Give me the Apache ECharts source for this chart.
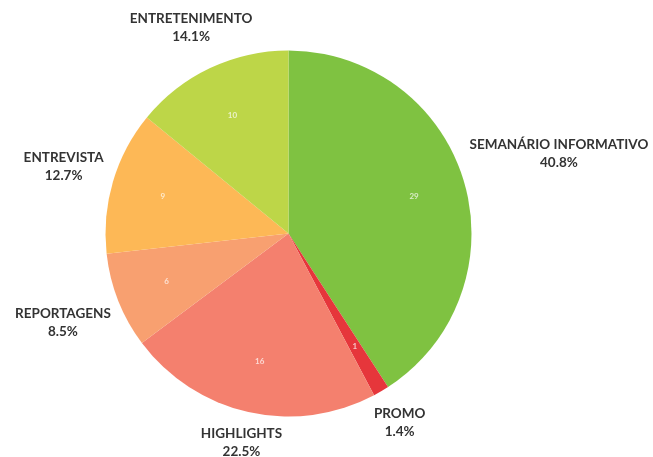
<!DOCTYPE html>
<html>
<head>
<meta charset="utf-8">
<script src="https://cdn.jsdelivr.net/npm/echarts@6/dist/echarts.min.js"></script>
<style>
html,body{margin:0;padding:0;background:#fff;}
#chart{width:653px;height:457px;}
</style>
</head>
<body>
<div id="chart"></div>
<script>
const categories = ['SEMANÁRIO INFORMATIVO', 'PROMO', 'HIGHLIGHTS', 'REPORTAGENS', 'ENTREVISTA', 'ENTRETENIMENTO'];
const counts = [29, 1, 16, 6, 9, 10];
const sliceColors = ['#7fc241', '#e6363b', '#f4806e', '#f8a070', '#fdb856', '#bdd648'];

const CX = 288.5, CY = 233.5, R = 183, GAP = 8;
const total = counts.reduce((a, b) => a + b, 0);
function midAngle(i) {
  let before = 0;
  for (let k = 0; k < i; k++) before += counts[k];
  return (before + counts[i] / 2) / total * Math.PI * 2;
}
function clamp(v, lo, hi) { return Math.max(lo, Math.min(hi, v)); }

const data = categories.map((name, i) => ({ name: name, value: counts[i], itemStyle: { color: sliceColors[i] } }));

const chart = echarts.init(document.getElementById('chart'), null, { renderer: 'canvas' });
chart.setOption({
  animation: false,
  backgroundColor: '#ffffff',
  series: [
    {
      type: 'pie',
      center: [CX, CY],
      radius: [0, R],
      startAngle: 90,
      clockwise: true,
      percentPrecision: 1,
      avoidLabelOverlap: false,
      silent: true,
      data: data,
      label: {
        show: true,
        position: 'outside',
        formatter: '{b}\n{d}%',
        color: '#333333',
        fontFamily: 'Lato',
        fontWeight: 'bold',
        fontSize: 13.5,
        lineHeight: 18,
        align: 'center'
      },
      labelLine: { show: false },
      labelLayout: function (p) {
        const a = midAngle(p.dataIndex);
        const ux = Math.sin(a), uy = -Math.cos(a);
        const w = p.labelRect.width, h = p.labelRect.height;
        let t = R, cx = CX, cy = CY;
        for (; t < R + 300; t += 0.5) {
          cx = CX + ux * t; cy = CY + uy * t;
          const nx = clamp(CX, cx - w / 2, cx + w / 2);
          const ny = clamp(CY, cy - h / 2, cy + h / 2);
          if (Math.hypot(nx - CX, ny - CY) >= R + GAP) break;
        }
        return { x: cx, y: cy, align: 'center', verticalAlign: 'middle' };
      }
    },
    {
      type: 'pie',
      center: [CX, CY],
      radius: [0, 256],
      startAngle: 90,
      clockwise: true,
      silent: true,
      z: 3,
      data: categories.map((name, i) => ({ name: name, value: counts[i] })),
      itemStyle: { color: 'rgba(0,0,0,0)', borderWidth: 0 },
      label: {
        show: true,
        position: 'inside',
        formatter: '{c}',
        color: 'rgba(255,255,255,0.7)',
        fontFamily: 'Lato',
        fontWeight: 'bold',
        fontSize: 8
      },
      labelLine: { show: false }
    }
  ]
});
</script>
</body>
</html>
